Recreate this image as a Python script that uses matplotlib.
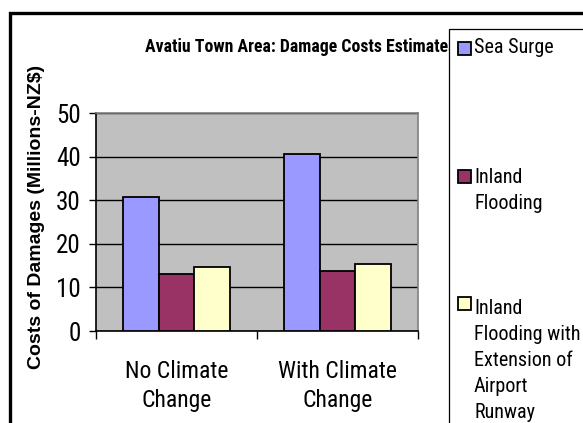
import matplotlib
matplotlib.use("Agg")
import matplotlib.pyplot as plt
from matplotlib.patches import Rectangle
import numpy as np

plt.rcParams['font.family'] = ['Roboto Condensed', 'Liberation Sans', 'DejaVu Sans']

categories = ["No Climate\nChange", "With Climate\nChange"]
series_names = ["Sea Surge", "Inland\nFlooding",
                "Inland\nFlooding with\nExtension of\nAirport\nRunway"]
series_values = [
    [30.7, 40.7],   # sea surge
    [13.0, 13.7],   # inland flooding
    [14.7, 15.3],   # inland flooding + runway extension
]
series_colors = ["#9999FF", "#993366", "#FFFFCC"]
y_ticks = [0, 10, 20, 30, 40, 50]

W, H = 583, 423
fig = plt.figure(figsize=(W / 100, H / 100), dpi=100)


def px(x, y):
    # pixel coords (from top-left) -> figure fraction
    return x / W, 1 - y / H


# outer frame of the chart object
fig.patches.append(Rectangle(px(10, 440), 600 / W, 427 / H, transform=fig.transFigure,
                             fill=False, edgecolor="black", linewidth=2.4, zorder=0))

l, b = px(96, 331)
r, t = px(418, 113)
ax = fig.add_axes([l, b, r - l, t - b])
ax.set_facecolor("#C0C0C0")

x = np.arange(len(categories))
width = 0.223
for i, (vals, col) in enumerate(zip(series_values, series_colors)):
    ax.bar(x + (i - 1) * width, vals, width, color=col, edgecolor="black",
           linewidth=1.3, zorder=3)

ax.set_xlim(-0.5, len(categories) - 0.5)
ax.set_ylim(0, 50)
ax.set_yticks(y_ticks)
ax.set_yticklabels([str(v) for v in y_ticks], fontsize=18)
ax.yaxis.grid(True, color="black", linewidth=1.0, zorder=1)
ax.set_axisbelow(True)

ax.set_xticks(x)
ax.set_xticklabels(categories, fontsize=17, linespacing=1.3)
ax.set_xticks(np.arange(len(categories) + 1) - 0.5, minor=True)
ax.tick_params(axis="x", which="major", length=0, pad=21)
ax.tick_params(axis="x", which="minor", length=6, width=1, direction="out")
ax.tick_params(axis="y", length=5, width=1, direction="out", pad=6)

for s in ["top", "right"]:
    ax.spines[s].set_color("#808080")
    ax.spines[s].set_linewidth(1.2)
for s in ["left", "bottom"]:
    ax.spines[s].set_color("black")
    ax.spines[s].set_linewidth(1.2)

fig.text(37 / W, 1 - 217 / H, "Costs of Damages (Millions-NZ$)", rotation=90,
         ha="center", va="center", fontsize=14, fontweight="bold",
         family=["Liberation Sans", "DejaVu Sans"])

fig.text(*px(145, 47), "Avatiu Town Area: Damage Costs Estimates",
         ha="left", va="center", fontsize=12.8, fontweight="bold", zorder=1)

# legend box
lx, ly = px(449, 440)
fig.patches.append(Rectangle((lx, ly), 200 / W, 411 / H, transform=fig.transFigure,
                             facecolor="white", edgecolor="black", linewidth=0.9, zorder=5))

square_tops = [42, 170, 297]
text_tops = [38, 168, 299]
for name, col, sq, tt in zip(series_names, series_colors, square_tops, text_tops):
    fig.patches.append(Rectangle(px(458, sq + 13), 13 / W, 13 / H, transform=fig.transFigure,
                                 facecolor=col, edgecolor="black", linewidth=1.3, zorder=6))
    fig.text(*px(474, tt), name, ha="left", va="top", fontsize=14.5,
             linespacing=1.46, zorder=6)

fig.savefig("out.png", dpi=100)
